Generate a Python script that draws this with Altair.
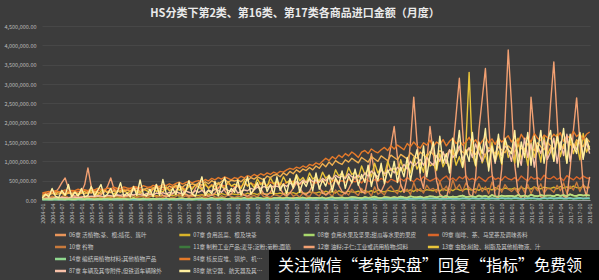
import altair as alt
import pandas as pd

# Monthly categories and x tick labels (every third month)
months = [f"{y}-{m:02d}" for y in range(2004, 2018) for m in range(1, 13)] + ["2018-01"]
tick_labels = months[::3]
y_ticks = [0, 500000, 1000000, 1500000, 2000000, 2500000, 3000000, 3500000, 4000000, 4500000]

names = [
    "06章 活植物;茎、根;插花、簇叶",
    "07章 食用蔬菜、根及块茎",
    "08章 食用水果及坚果;甜瓜等水果的果皮",
    "09章 咖啡、茶、马黛茶及调味香料",
    "10章 谷物",
    "11章 制粉工业产品;麦芽;淀粉;菊粉;面筋",
    "12章 油籽;子仁;工业或药用植物;饲料",
    "13章 虫胶;树胶、树脂及其他植物液、汁",
    "14章 编结用植物材料;其他植物产品",
    "84章 核反应堆、锅炉、机械器具及零件",
    "85章 电机、电气、音像设备及其零附件",
    "86章 铁道车辆;轨道装置;信号设备",
    "87章 车辆及其零附件,但铁道车辆除外",
    "88章 航空器、航天器及其零件",
    "89章 船舶及浮动结构体",
]
colors = ["#e8955a", "#d9b42a", "#a8d86c", "#d9662a", "#c87a3c", "#3d7a3d", "#f2a072",
          "#e9c53a", "#8fd88f", "#e57a2a", "#f0b050", "#79c6c0", "#f7c0a8", "#fff0a0", "#b8e080"]

# values in units of 10,000
s06 = [2,3,2,4,3,2,3,4,2,3,2,3, 3,2,4,3,2,3,5,3,2,4,3,2, 3,4,2,3,5,3,2,4,3,3,2,4,
       4,3,5,2,4,3,4,5,3,2,4,3, 3,5,4,3,6,4,3,5,4,3,5,4, 4,3,5,4,6,3,5,4,3,6,4,5,
       5,4,6,5,4,7,5,4,6,5,7,5, 6,5,7,4,6,8,5,6,7,5,6,8, 7,6,5,8,6,7,9,6,5,8,7,6,
       8,6,9,7,6,10,8,7,9,6,8,10, 9,7,10,8,11,7,9,8,10,12,8,9, 10,8,12,9,11,8,13,10,9,12,10,11,
       11,9,13,10,12,9,14,11,10,13,11,12, 12,10,14,11,13,10,15,12,11,14,12,13, 12]
s07 = [4,5,6,5,7,6,5,8,6,7,5,6, 6,7,5,8,6,9,7,6,8,7,9,8, 7,9,8,10,7,11,9,8,12,10,9,11,
       10,12,9,13,11,14,10,12,15,11,13,12, 12,14,11,16,13,15,12,17,14,13,16,15,
       14,16,13,18,15,17,14,19,16,15,18,17, 16,18,15,20,17,19,16,22,18,17,21,19,
       18,21,17,23,19,22,18,24,20,19,23,21, 20,23,19,25,21,24,20,26,22,21,25,23,
       22,25,21,27,23,26,22,28,24,23,27,25, 24,27,23,29,25,28,24,30,26,25,29,27,
       26,29,25,31,27,30,26,32,28,27,31,29, 28,31,27,33,29,32,28,34,30,29,33,31,
       30,33,29,35,31,34,30,36,32,31,35,33, 32]
s08 = [1,2,1,2,1,3,2,1,2,1,2,3, 2,1,3,2,1,2,3,1,2,2,1,3, 2,3,1,2,4,2,1,3,2,1,3,2,
       3,2,4,1,3,2,4,3,2,3,1,4, 3,4,2,3,5,2,3,4,3,2,4,3, 4,3,5,2,4,3,5,4,3,5,2,4,
       4,5,3,6,4,3,5,4,6,3,5,4, 5,4,6,3,5,7,4,5,6,4,5,7, 6,5,4,7,5,6,8,5,4,7,6,5,
       7,5,8,6,5,9,7,6,8,5,7,9, 8,6,9,7,10,6,8,7,9,11,7,8, 9,7,11,8,10,7,12,9,8,11,9,10,
       10,8,12,9,11,8,13,10,9,12,10,11, 11,9,13,10,12,9,14,11,10,13,11,12, 11]
s09 = [15,18,16,20,17,22,19,21,18,24,20,23, 21,25,22,19,26,23,27,24,22,28,25,30,
       26,29,24,31,27,33,28,25,30,34,29,32, 30,27,33,29,35,31,37,32,28,36,33,38,
       34,30,38,33,40,35,31,39,36,42,37,34, 38,35,42,37,44,40,36,45,41,38,46,42,
       40,45,38,47,43,49,44,40,48,45,51,46, 44,50,46,52,41,48,54,47,50,45,53,49,
       47,52,44,55,50,46,53,48,56,51,45,54, 50,46,55,49,58,52,47,56,51,60,54,49,
       53,58,48,56,62,51,57,50,60,55,63,52, 56,50,60,54,48,58,62,53,57,51,61,55,
       52,58,50,62,55,49,60,54,58,52,64,56, 55,61,53,58,50,63,57,52,60,54,62,57, 56]
s10 = [6,8,5,10,7,4,9,12,6,5,8,7, 9,6,11,7,5,14,8,6,10,9,7,12, 8,5,10,7,13,6,9,11,5,8,15,7,
       10,6,12,8,5,9,16,7,11,6,10,8, 7,12,6,9,14,8,5,11,7,13,9,6, 10,8,15,6,9,12,7,18,8,10,6,14,
       12,9,16,8,20,10,14,7,18,11,9,22, 15,10,24,12,18,9,26,14,11,20,13,28,
       18,12,30,16,22,10,34,15,20,13,28,36, 24,16,40,20,28,14,45,22,30,18,38,26,
       30,20,48,24,36,18,52,28,40,22,44,32, 26,18,42,22,34,16,46,24,38,20,40,28,
       22,30,18,36,20,40,16,34,24,42,18,30, 28,20,38,24,44,18,36,26,46,22,40,30, 34]
s11 = [1,0,1,1,0,1,1,1,0,1,1,0, 1,1,0,1,1,1,0,1,1,0,1,1, 1,1,1,0,1,1,2,1,0,1,1,1,
       1,2,1,1,0,1,1,2,1,1,1,0, 1,1,2,1,1,2,1,0,1,2,1,1, 2,1,1,2,1,1,2,1,1,1,2,1,
       1,2,1,1,2,2,1,1,2,1,1,2, 2,1,2,1,1,2,2,1,1,2,1,2, 2,2,1,2,1,2,1,2,2,1,2,1,
       2,1,2,2,1,3,2,1,2,2,1,2, 2,2,3,1,2,2,3,2,1,2,3,2, 3,2,2,3,2,1,3,2,2,3,2,2,
       2,3,2,2,3,2,2,3,1,2,3,2, 3,2,3,2,2,3,2,3,2,2,3,3, 2]
s12 = [8,12,18,25,20,30,45,57,30,15,10,12, 20,40,83,35,15,10,14,20,35,57,28,12,
       10,8,12,18,25,32,20,14,10,15,28,40, 22,12,9,11,16,24,35,26,15,10,14,30,
       45,28,14,10,12,18,30,42,24,12,16,28, 38,22,12,10,15,26,40,30,16,12,20,35,
       48,30,15,12,18,30,45,32,18,14,22,40, 55,35,18,14,20,35,52,38,22,16,28,46,
       60,40,22,18,60,120,70,30,22,40,90,140, 190,110,40,20,60,150,266,150,60,30,100,190,
       120,50,15,8,5,40,130,220,315,180,60,15, 8,60,180,260,340,200,70,10,5,80,200,388,
       250,90,20,5,3,60,266,170,40,8,5,120, 250,357,210,60,10,5,80,180,264,150,40,10, 60]
s13 = [10,14,12,18,15,22,17,13,19,16,21,14, 18,22,16,25,19,14,23,27,18,21,15,24,
       20,26,18,23,30,21,17,28,24,19,32,22, 26,20,34,24,29,38,25,31,22,36,28,40,
       33,27,42,30,38,26,45,35,29,48,36,41, 38,30,50,36,44,32,55,40,46,34,58,42,
       48,38,60,44,52,40,66,50,58,45,70,54, 60,48,72,56,64,50,78,62,70,55,84,66,
       72,58,88,66,80,60,95,70,84,64,100,76, 82,66,104,74,92,70,110,80,96,72,118,88,
       94,76,120,86,104,78,130,90,112,84,140,330, 120,88,146,96,118,84,150,100,126,92,156,110,
       128,96,160,104,134,90,148,110,140,98,164,116, 136,102,170,112,144,96,158,120,150,104,172,124, 140]
s14 = [2,1,2,3,1,2,2,1,3,2,1,2, 2,3,1,2,2,3,1,2,3,1,2,2, 3,2,2,1,3,2,3,2,1,2,3,2,
       2,3,2,3,1,2,3,2,2,3,2,1, 3,2,3,2,2,4,2,3,2,3,2,3, 3,2,4,3,2,3,2,4,3,2,3,3,
       3,4,2,3,4,3,2,3,4,3,3,2, 4,3,3,4,2,3,4,3,3,4,3,4, 3,4,4,3,4,2,4,3,4,4,3,3,
       4,3,5,4,3,4,3,4,5,3,4,4, 4,5,3,4,4,5,3,4,4,5,4,3, 5,4,4,5,3,4,5,4,4,5,4,5,
       4,5,5,4,4,5,4,5,3,4,5,4, 5,4,5,5,4,4,5,4,5,5,4,5, 4]
s84 = [18,20,22,19,24,21,23,26,22,25,24,28, 25,27,24,29,26,30,28,27,31,29,33,30,
       30,34,31,29,35,33,31,37,34,32,38,36, 35,40,37,42,38,43,46,41,45,49,44,48,
       50,46,53,49,56,52,58,54,60,56,52,58, 55,61,57,63,60,66,62,68,64,70,66,72,
       68,74,72,78,82,79,85,82,88,84,92,89, 96,92,100,108,102,112,106,116,110,120,114,124,
       118,110,124,128,120,132,126,122,130,136,128,140, 132,142,136,130,146,138,150,140,134,148,142,155,
       138,150,144,156,140,152,160,146,154,142,150,162, 146,156,140,152,164,148,158,144,160,150,158,166,
       150,162,146,170,156,164,150,172,160,154,168,162, 158,170,162,174,152,166,160,178,164,172,156,170, 176]
s85 = [12,15,13,17,14,16,19,15,18,16,20,17, 19,16,21,18,22,20,17,23,21,19,24,22,
       24,21,26,23,28,25,22,27,30,26,29,32, 30,34,28,36,32,38,35,33,40,37,42,39,
       44,38,47,42,50,45,41,48,53,46,51,49, 52,47,55,50,58,54,60,56,52,62,58,64,
       66,60,70,64,74,68,78,72,80,76,84,78, 88,82,94,86,98,90,102,96,92,104,98,108,
       102,96,110,104,98,112,106,100,114,108,102,116, 110,104,118,112,106,122,114,108,124,116,110,126,
       118,112,128,120,114,130,122,116,132,124,118,134, 126,118,134,124,116,136,128,120,138,130,122,140,
       132,124,142,134,126,146,136,128,148,138,130,150, 140,132,150,142,134,154,144,136,156,146,138,160, 150]
s86 = [1,2,1,1,2,1,2,1,1,2,1,1, 2,1,1,2,1,2,1,1,2,1,2,1, 1,2,2,1,1,2,1,2,1,1,2,2,
       2,1,2,2,1,1,2,2,1,2,1,2, 2,2,1,2,3,2,1,2,2,3,2,1, 2,3,2,2,1,2,3,2,2,1,3,2,
       3,2,2,3,2,3,2,2,3,2,2,3, 2,3,3,2,3,2,3,3,2,3,3,2, 3,3,2,3,4,3,2,3,3,4,3,3,
       3,4,3,3,2,4,3,3,4,3,3,4, 4,3,3,4,3,4,3,4,3,4,4,3, 4,4,3,4,5,3,4,4,3,5,4,4,
       4,5,4,3,4,4,5,4,4,3,5,4, 5,4,4,5,4,4,5,3,4,5,4,4, 5]
s87 = [3,4,5,4,6,5,7,6,5,8,7,6, 7,9,8,10,9,11,10,8,12,11,10,13, 12,14,11,15,13,16,14,12,17,15,13,18,
       16,19,15,20,17,22,18,16,23,20,17,24, 20,25,18,26,22,28,24,20,30,25,22,32,
       18,22,26,24,30,27,33,29,35,31,37,34, 36,32,40,35,44,38,48,42,52,45,55,48,
       50,46,56,50,60,54,64,58,62,56,68,60, 58,64,55,70,62,75,66,60,78,68,72,82,
       70,85,76,92,80,100,88,95,105,90,110,98, 90,115,100,125,95,130,110,120,140,105,125,135,
       110,145,120,100,150,125,135,95,155,115,140,130, 100,150,120,90,160,110,145,85,140,120,155,105,
       125,160,95,150,115,170,100,145,130,165,110,150, 120]
s88 = [5,15,8,30,10,6,25,12,40,8,20,10, 30,8,12,35,10,25,40,9,15,30,8,20,
       45,10,18,8,35,12,52,15,10,28,9,40, 12,53,18,10,30,14,45,11,22,50,15,10,
       35,60,12,25,16,48,10,40,58,14,30,20, 52,12,35,60,15,28,45,18,55,22,40,14,
       60,25,42,16,55,30,65,20,48,35,58,24, 70,28,52,36,64,22,58,40,75,30,62,44,
       80,38,66,45,90,35,72,50,95,42,78,58, 100,45,85,60,110,50,95,130,70,140,60,115,
       150,80,165,95,120,70,160,110,180,85,130,100, 175,90,150,120,185,75,140,100,170,95,160,130,
       120,180,85,150,110,175,90,165,125,180,95,150, 180,100,165,130,185,95,170,140,120,175,105,160, 130]
s89 = [2,3,2,2,4,2,3,2,3,2,2,3, 3,2,4,3,2,3,2,4,3,2,3,4, 3,4,2,3,5,3,2,4,3,3,4,2,
       4,3,5,2,4,3,4,5,3,4,2,4, 4,5,3,4,6,3,4,5,4,3,5,4, 5,4,6,3,5,4,6,5,4,6,3,5,
       5,6,4,7,5,4,6,5,7,4,6,5, 6,5,7,4,6,8,5,6,7,5,6,8, 7,6,5,8,6,7,9,6,5,8,7,6,
       8,6,9,7,6,10,8,7,9,6,8,10, 9,7,10,8,11,7,9,8,10,12,8,9, 10,8,12,9,11,8,13,10,9,12,10,11,
       11,9,13,10,12,9,14,11,10,13,11,12, 12,10,14,11,13,10,15,12,11,14,12,13, 12]

series = [s06, s07, s08, s09, s10, s11, s12, s13, s14, s84, s85, s86, s87, s88, s89]

rows = []
for order, (name, vals) in enumerate(zip(names, series)):
    assert len(vals) == len(months), (name, len(vals))
    for mth, v in zip(months, vals):
        rows.append({"month": mth, "series": name, "value": v * 10000, "order": order})
df = pd.DataFrame(rows)

FONT = "Noto Sans CJK SC"
color_scale = alt.Scale(domain=names, range=colors)

lines = alt.Chart(df).mark_line(strokeWidth=1.4, strokeJoin="round").encode(
    x=alt.X("month:O", sort=months,
            scale=alt.Scale(type="point", padding=0.1),
            axis=alt.Axis(values=tick_labels, labelAngle=270, labelFontSize=5.5,
                          labelColor="#bdbdbd", labelFont=FONT, labelPadding=3,
                          ticks=False, domainColor="#9a9a9a", domainWidth=1,
                          grid=False, title=None, labelOverlap=False)),
    y=alt.Y("value:Q", scale=alt.Scale(domain=[0, 4500000], nice=False),
            axis=alt.Axis(values=y_ticks, format=",.2f", labelFontSize=5.5,
                          labelColor="#bdbdbd", labelFont=FONT, labelPadding=6,
                          ticks=False, domain=False, grid=True, gridColor="#4f4f4f",
                          gridWidth=0.6, title=None, labelOverlap=False)),
    color=alt.Color("series:N", scale=color_scale, legend=None),
    order=alt.Order("order:Q"),
)

# manual legend, 4 columns (the lower right part is covered by the watermark box)
leg = pd.DataFrame({"series": names, "idx": list(range(len(names)))})
leg["col"] = leg["idx"] % 4
leg["row"] = leg["idx"] // 4
leg["lx"] = 13 + leg["col"] * 124.3
leg["lx2"] = leg["lx"] + 11
leg["tx"] = leg["lx"] + 14
leg["ly"] = 209 + leg["row"] * 12
leg["cut"] = (leg["row"] >= 2) & (leg["col"] == 1)
leg["hidden"] = (leg["row"] >= 2) & (leg["col"] >= 2)

legend_lines = alt.Chart(leg).mark_rule(strokeWidth=2.5).encode(
    x=alt.X("lx:Q", scale=None, axis=None),
    x2="lx2:Q",
    y=alt.Y("ly:Q", scale=None, axis=None),
    color=alt.Color("series:N", scale=color_scale, legend=None),
)
legend_text = alt.Chart(leg).transform_filter(
    "!datum.cut && !datum.hidden"
).mark_text(align="left", baseline="middle", fontSize=5.6,
            color="#c8c8c8", font=FONT, limit=110).encode(
    x=alt.X("tx:Q", scale=None, axis=None),
    y=alt.Y("ly:Q", scale=None, axis=None),
    text="series:N",
)
legend_text_cut = alt.Chart(leg).transform_filter(
    "datum.cut"
).mark_text(align="left", baseline="middle", fontSize=5.6,
            color="#c8c8c8", font=FONT, limit=72, ellipsis="").encode(
    x=alt.X("tx:Q", scale=None, axis=None),
    y=alt.Y("ly:Q", scale=None, axis=None),
    text="series:N",
)

wm = pd.DataFrame({"t": ["关注微信“老韩实盘”回复“指标”免费领"]})
wm_rect = alt.Chart(wm).mark_rect(color="#000000").encode(
    x=alt.value(227), x2=alt.value(560), y=alt.value(224), y2=alt.value(256))
wm_text = alt.Chart(wm).mark_text(align="left", baseline="middle", fontSize=16,
                                  color="#ffffff", font=FONT).encode(
    x=alt.value(236), y=alt.value(240), text="t:N")

chart = alt.layer(lines, legend_lines, legend_text, legend_text_cut, wm_rect, wm_text).resolve_scale(
    x="independent", y="independent"
).properties(
    width=548, height=174,
    autosize="none",
    padding={"left": 42, "top": 26, "right": 9, "bottom": 80},
    background="#3c3c3c",
    title=alt.Title("HS分类下第2类、第16类、第17类各商品进口金额（月度）",
                    fontSize=11, fontWeight="bold", color="#eaeaea", font=FONT,
                    anchor="middle", frame="group", dx=-21, offset=5),
).configure_view(stroke=None)

chart.save("out.html", embed_options={"renderer": "svg", "actions": False})
